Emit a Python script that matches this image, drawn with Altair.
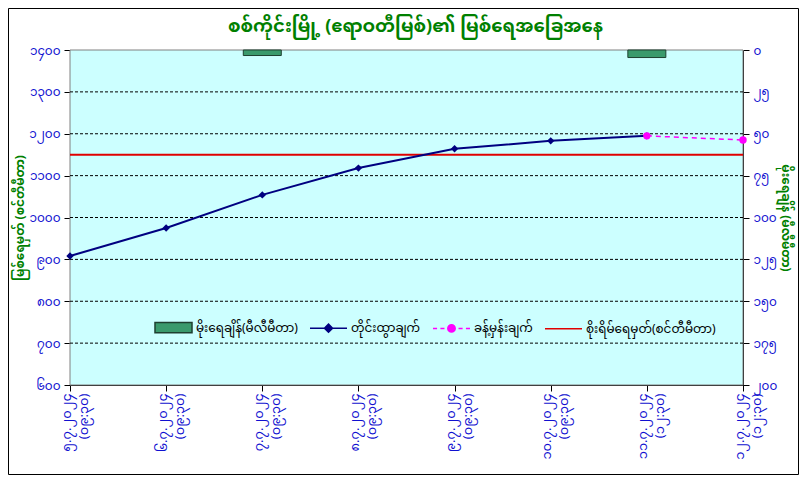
import altair as alt
import pandas as pd

# ---------------- data ----------------
DATES = ["၅.၇.၂၀၂၄", "၆.၇.၂၀၂၄", "၇.၇.၂၀၂၄", "၈.၇.၂၀၂၄",
         "၉.၇.၂၀၂၄", "၁၀.၇.၂၀၂၄", "၁၁.၇.၂၀၂၄", "၁၂.၇.၂၀၂၄"]
TIMES = ["(၀၉:၃၀)", "(၀၉:၃၀)", "(၀၉:၃၀)", "(၀၉:၃၀)",
         "(၀၉:၃၀)", "(၀၉:၃၀)", "(၁၂:၃၀)", "(၁၂:၃၀)"]
OBS_LEVEL = [908, 975, 1054, 1118, 1164, 1183, 1195]          # first 7 dates
FCST_IDX = [6, 7]
FCST_LEVEL = [1195, 1185]
DANGER_LEVEL = 1150
RAIN_MM = [0, 0, 3.3, 0, 0, 0, 4.5, 0]
LEFT_TICKS = [600, 700, 800, 900, 1000, 1100, 1200, 1300, 1400]
RIGHT_TICKS = [0, 25, 50, 75, 100, 125, 150, 175, 200]
MM_DIGITS = ["၀", "၁", "၂", "၃", "၄", "၅", "၆", "၇", "၈", "၉"]

TITLE = "စစ်ကိုင်းမြို့ (ဧရာဝတီမြစ်)၏ မြစ်ရေအခြေအနေ"
LEFT_TITLE = "မြစ်ရေမှတ် (စင်တီမီတာ)"
RIGHT_TITLE = "မိုးရေချိန် (မီလီမီတာ)"
S_RAIN = "မိုးရေချိန်(မီလီမီတာ)"
S_OBS = "တိုင်းထွာချက်"
S_FCST = "ခန့်မှန်းချက်"
S_DANGER = "စိုးရိမ်ရေမှတ်(စင်တီမီတာ)"
SERIES = [S_RAIN, S_OBS, S_FCST, S_DANGER]

# ---------------- styles ----------------
FONT = "Noto Sans Myanmar, Padauk, Myanmar Text, Noto Sans, sans-serif"
GREEN_T = "#008000"
BLUE_L = "#1010D0"
PLOT_BG = "#CCFFFF"
C_RAIN, C_RAIN_EDGE = "#3A9A6C", "#1E4030"
C_OBS = "#000080"
C_FCST = "#FF00FF"
C_DANGER = "#E00000"

P_RAIN = "M-1,-0.28L1,-0.28L1,0.28L-1,0.28Z"
P_OBS = "M-1,0L1,0M-0.22,0L0,-0.22L0.22,0L0,0.22Z"
P_FCST = ("M-1,0L-0.78,0M-0.6,0L-0.38,0M0.38,0L0.6,0M0.78,0L1,0"
          "M-0.2,0A0.2,0.2 0 1,0 0.2,0A0.2,0.2 0 1,0 -0.2,0Z")
P_DANGER = "M-1,0L1,0"

W, H = 673, 335

cats = [f"{d}|{t}" for d, t in zip(DATES, TIMES)]

rain_df = pd.DataFrame({"cat": cats, "rain": RAIN_MM})
rain_df = rain_df[rain_df["rain"] > 0]
obs_df = pd.DataFrame({"cat": cats[:len(OBS_LEVEL)], "level": OBS_LEVEL})
fcst_df = pd.DataFrame({"cat": [cats[i] for i in FCST_IDX], "level": FCST_LEVEL})
danger_df = pd.DataFrame({"level": [DANGER_LEVEL]})
grid_df = pd.DataFrame({"level": LEFT_TICKS[1:-1]})
legend_df = pd.DataFrame({"series": SERIES})


def mm_expr(inner):
    e = inner
    for i, d in enumerate(MM_DIGITS):
        e = f"replace({e}, regexp('{i}', 'g'), '{d}')"
    return e


x_enc = alt.X("cat:N", sort=cats, scale=alt.Scale(type="point", padding=0, domain=cats),
              axis=alt.Axis(title=None, labelAngle=270, labelExpr="split(datum.label, '|')",
                            labelColor=BLUE_L, labelFont=FONT, labelFontSize=13,
                            labelPadding=2, labelOffset=-4, tickSize=6, tickColor="black",
                            domainColor="black", grid=False, labelLineHeight=17))

y_left = alt.Y("level:Q", scale=alt.Scale(domain=[600, 1400], nice=False, zero=False),
               axis=alt.Axis(values=LEFT_TICKS, labelExpr=mm_expr("format(datum.value, 'd')"),
                             labelColor=BLUE_L, labelFont=FONT, labelFontSize=12,
                             title=LEFT_TITLE, titleColor=GREEN_T, titleFont=FONT,
                             titleFontSize=12, titleFontWeight="bold", titlePadding=2,
                             grid=False, domainColor="black", tickColor="black", tickSize=6,
                             labelPadding=4, orient="left"))

y_right = alt.Y("rain:Q", scale=alt.Scale(domain=[0, 200], reverse=True, nice=False),
                axis=alt.Axis(values=RIGHT_TICKS, labelExpr=mm_expr("format(datum.value, 'd')"),
                              labelColor=BLUE_L, labelFont=FONT, labelFontSize=12,
                              title=RIGHT_TITLE, titleColor=GREEN_T, titleFont=FONT,
                              titleFontSize=12, titleFontWeight="bold", titleAngle=90,
                              titlePadding=2, grid=False, domainColor="black",
                              tickColor="black", tickSize=6, labelPadding=4, orient="right"))

# plot-area background (drawn first, beneath everything)
plot_bg = alt.Chart(pd.DataFrame({"f": [0]})).mark_rect(
    fill=PLOT_BG, stroke="#808080", strokeWidth=1).encode(
    x=alt.value(0), x2=alt.value(W), y=alt.value(0), y2=alt.value(H))

gridlines = alt.Chart(grid_df).mark_rule(
    color="black", strokeWidth=1, strokeDash=[3, 2]).encode(y=y_left)

bars = alt.Chart(rain_df).mark_bar(size=38, color=C_RAIN, stroke=C_RAIN_EDGE,
                                   strokeWidth=1).encode(x=x_enc, y=y_right)

obs = alt.Chart(obs_df).mark_line(
    strokeWidth=2, color=C_OBS,
    point=alt.OverlayMarkDef(shape="diamond", filled=True, size=55, color=C_OBS)).encode(
    x=x_enc, y=y_left)

fcst = alt.Chart(fcst_df).mark_line(
    strokeWidth=1.5, strokeDash=[5, 4], color=C_FCST,
    point=alt.OverlayMarkDef(shape="circle", filled=True, size=55, color=C_FCST)).encode(
    x=x_enc, y=y_left)

danger = alt.Chart(danger_df).mark_rule(strokeWidth=2, color=C_DANGER).encode(y=y_left)

# invisible layer that only carries the combined legend
legend = alt.Legend(orient="none", legendX=84, legendY=258, direction="horizontal",
                    title=None, labelFont=FONT, labelFontSize=12, labelColor="black",
                    symbolSize=1370, symbolStrokeWidth=1.5, symbolOpacity=1,
                    columnPadding=8, labelOffset=3, labelLimit=300)
legend_layer = alt.Chart(legend_df).mark_point(opacity=0, filled=True).encode(
    shape=alt.Shape("series:N", sort=SERIES,
                    scale=alt.Scale(domain=SERIES, range=[P_RAIN, P_OBS, P_FCST, P_DANGER]),
                    legend=legend),
    fill=alt.Fill("series:N", sort=SERIES,
                  scale=alt.Scale(domain=SERIES, range=[C_RAIN, C_OBS, C_FCST, "transparent"]),
                  legend=legend),
    stroke=alt.Stroke("series:N", sort=SERIES,
                      scale=alt.Scale(domain=SERIES,
                                      range=[C_RAIN_EDGE, C_OBS, C_FCST, C_DANGER]),
                      legend=legend),
)

frame = alt.Chart(pd.DataFrame({"f": [0]})).mark_rect(
    fill="transparent", stroke="black", strokeWidth=1).encode(
    x=alt.value(-61.5), x2=alt.value(728.5), y=alt.value(-41.5), y2=alt.value(424.5))

chart = alt.layer(
    plot_bg,
    bars,
    alt.layer(gridlines, danger, obs, fcst),
    legend_layer,
    frame,
).resolve_scale(y="independent").properties(
    width=W, height=H,
    autosize=alt.AutoSizeParams(type="none"),
    padding={"left": 62, "top": 42, "right": 56, "bottom": 90},
    title=alt.TitleParams(TITLE, color=GREEN_T, font=FONT, fontSize=18, fontWeight="bold",
                          anchor="middle", offset=-28, dx=9),
).configure(background="white").configure_view(stroke=None)

chart.save("out.html", embed_options={"renderer": "svg", "actions": False})
